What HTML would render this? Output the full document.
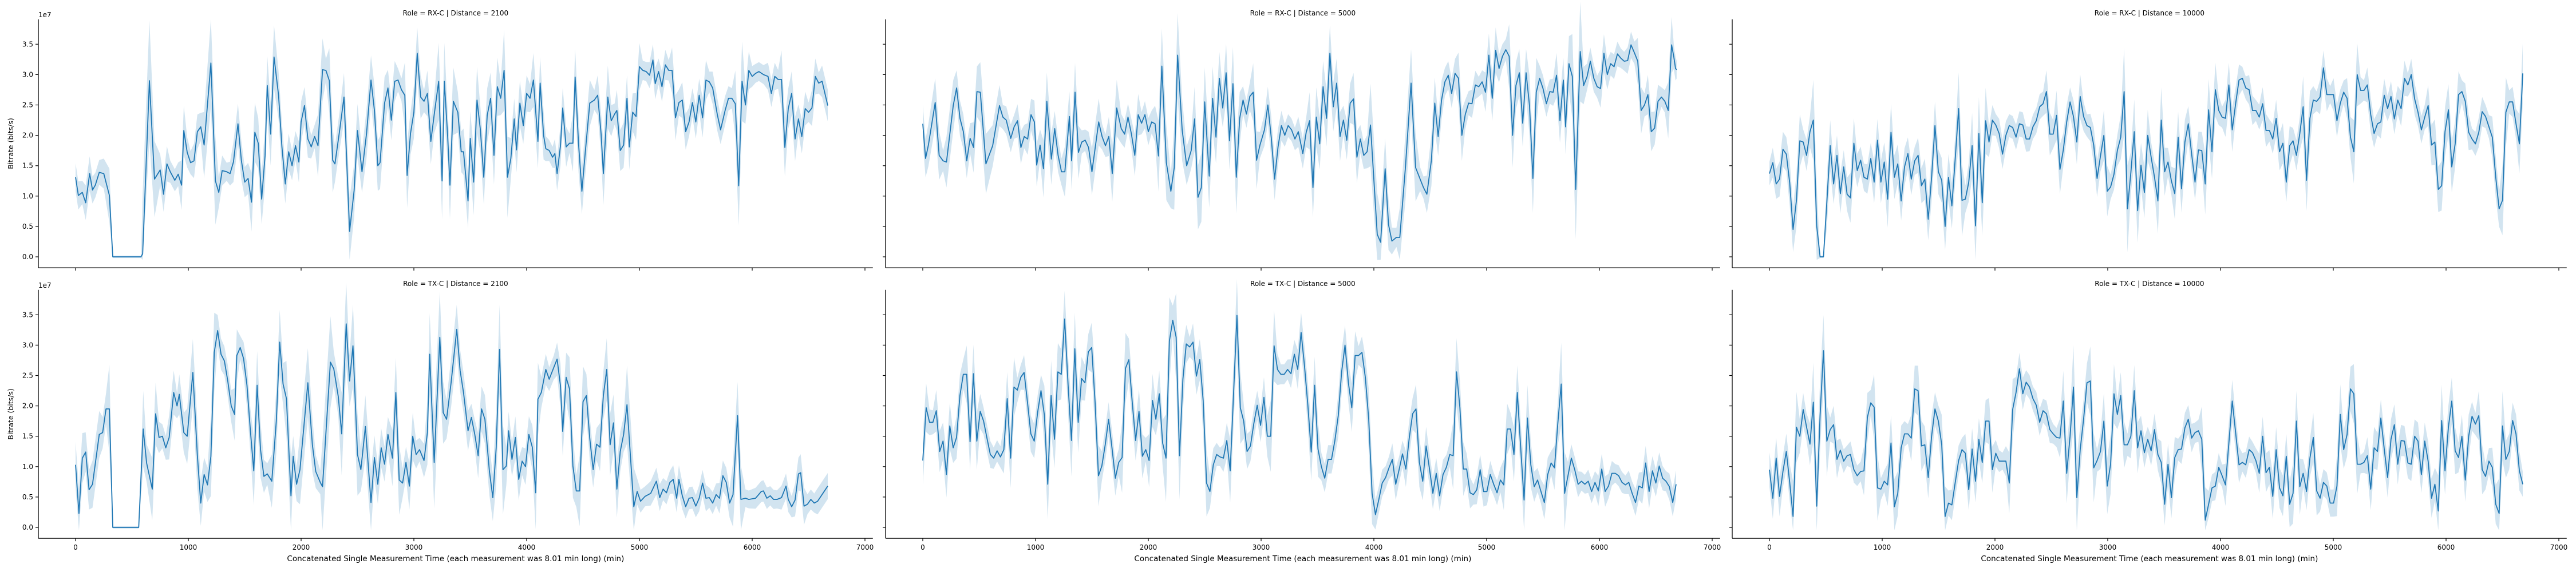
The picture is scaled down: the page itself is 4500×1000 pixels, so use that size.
<!DOCTYPE html>
<html><head><meta charset="utf-8"><title>Bitrate facets</title>
<style>
html,body{margin:0;padding:0;background:#fff;}
svg{display:block;font-family:"DejaVu Sans","Liberation Sans",sans-serif;}
</style></head>
<body>
<svg id="chart" width="4500" height="1000" viewBox="0 0 4500 1000" xmlns="http://www.w3.org/2000/svg"></svg>
<script>
// ---------- data ----------
const rx2100Times = [0,25,60,90,125,150,175,210,250,300,330,580,595,655,700,750,780,810,840,880,910,940,960,990,1020,1050,1080,1110,1140,1200,1240,1270,1300,1340,1370,1400,1440,1470,1500,1530,1560,1590,1620,1650,1680,1700,1730,1760,1800,1830,1860,1890,1920,1950,1980,2000,2030,2060,2090,2120,2150,2190,2220,2250,2280,2300,2340,2380,2400,2430,2470,2500,2540,2580,2620,2650,2680,2700,2740,2770,2800,2830,2860,2890,2920,2940,2970,3000,3030,3060,3090,3120,3150,3180,3220,3250,3270,3300,3320,3350,3390,3420,3440,3480,3500,3530,3560,3590,3620,3650,3680,3710,3740,3770,3800,3830,3860,3890,3910,3940,3970,4000,4030,4060,4100,4120,4150,4170,4200,4230,4250,4270,4300,4320,4350,4380,4410,4430,4460,4490,4520,4560,4600,4630,4660,4680,4720,4750,4780,4800,4830,4860,4890,4910,4940,4970,5000,5030,5060,5090,5120,5140,5170,5200,5230,5260,5290,5320,5350,5380,5410,5440,5470,5500,5530,5560,5590,5620,5650,5690,5720,5760,5790,5820,5850,5880,5910,5940,5970,6000,6030,6060,6100,6140,6170,6200,6230,6260,6290,6320,6350,6380,6410,6440,6470,6500,6530,6560,6590,6620,6670];
const rx2100Values = [1.31,1.01,1.06,0.89,1.37,1.1,1.18,1.39,1.37,1.01,0,0,0.05,2.9,1.28,1.43,1.03,1.53,1.4,1.26,1.36,1.18,2.08,1.72,1.55,1.58,2.06,2.14,1.84,3.19,1.25,1.06,1.42,1.4,1.37,1.56,2.19,1.59,1.23,1.29,0.9,2.05,1.87,0.95,1.66,2.82,2.02,3.29,2.66,1.81,1.2,1.73,1.5,1.83,1.56,2.22,2.49,1.94,1.81,1.98,1.83,3.08,3.07,2.9,1.59,1.53,2.06,2.63,1.78,0.42,1.09,2.08,1.4,2.03,2.91,2.41,1.5,1.55,2.53,2.78,2.25,2.89,2.91,2.75,2.66,1.34,2.03,2.38,3.35,2.63,2.56,2.69,1.9,2.34,2.89,1.25,2.89,1.97,1.18,2.56,2.38,1.73,1.73,0.92,1.95,1.23,2.58,2.09,1.31,2.33,2.61,1.67,2.8,2.61,3.07,1.31,1.62,2.27,1.76,2.53,2.16,2.69,2.61,2.91,1.9,2.86,2.0,1.78,1.75,1.64,1.7,1.37,1.83,2.45,1.81,1.87,1.87,2.96,1.87,1.08,1.72,2.53,2.58,2.66,2.03,1.37,2.63,2.24,2.35,2.41,1.75,1.84,2.61,1.81,2.38,2.31,3.13,3.07,3.05,2.99,3.24,2.85,3.05,2.8,3.16,3.07,3.07,2.29,2.54,2.58,2.06,2.22,2.54,2.22,2.66,2.29,2.91,2.88,2.78,2.35,2.09,2.41,2.61,2.61,2.52,1.17,2.89,2.5,3.07,2.97,3.02,3.05,3.0,2.97,2.69,2.97,2.92,2.92,1.8,2.44,2.69,1.94,2.27,1.98,2.44,2.38,2.45,2.97,2.86,2.89,2.49];

const rx5000Times = [0,25,50,110,145,180,210,270,300,330,360,390,420,450,480,510,560,620,680,710,740,780,810,840,870,900,930,960,990,1010,1040,1070,1100,1140,1170,1200,1230,1260,1300,1320,1350,1380,1410,1440,1470,1500,1560,1590,1620,1650,1680,1720,1760,1790,1820,1850,1880,1910,1940,1970,2000,2030,2060,2090,2120,2160,2200,2230,2260,2300,2340,2380,2410,2440,2470,2500,2540,2570,2600,2630,2660,2690,2720,2750,2780,2810,2840,2870,2900,2930,2960,2990,3030,3060,3090,3120,3150,3180,3210,3240,3270,3300,3330,3370,3400,3430,3460,3490,3520,3550,3580,3610,3640,3670,3700,3730,3760,3790,3820,3850,3880,3910,3940,3970,4030,4060,4100,4130,4160,4200,4230,4280,4330,4370,4410,4440,4470,4510,4540,4570,4600,4630,4660,4690,4720,4750,4780,4810,4840,4870,4900,4930,4960,4990,5020,5050,5080,5110,5140,5170,5200,5230,5260,5290,5320,5350,5380,5410,5440,5470,5500,5530,5560,5590,5620,5650,5680,5700,5730,5760,5790,5830,5860,5890,5920,5950,5980,6010,6040,6070,6100,6130,6160,6190,6220,6250,6280,6310,6340,6370,6400,6430,6460,6490,6520,6550,6580,6610,6640,6660,6675,6685];
const rx5000Values = [2.19,1.62,1.84,2.54,1.67,1.58,1.56,2.49,2.78,2.28,2.06,1.58,1.95,1.8,2.72,2.71,1.53,1.83,2.49,2.3,2.25,1.95,2.14,2.24,1.8,1.98,1.94,2.34,2.22,1.51,1.84,1.45,2.56,1.61,2.11,1.67,1.4,1.4,2.31,1.58,2.71,1.72,1.89,1.92,1.8,1.4,2.22,1.98,1.83,1.98,1.37,2.45,2.11,2.02,2.3,2.02,1.67,2.34,2.2,2.34,2.06,2.22,2.19,1.66,3.14,1.55,1.08,1.47,3.32,2.09,1.5,1.75,2.27,0.98,1.14,2.55,1.33,2.61,1.97,2.94,2.45,3.03,1.91,2.85,1.31,2.28,2.58,2.35,2.64,2.71,1.59,1.84,2.09,2.5,1.97,1.28,1.81,2.16,2.0,2.16,2.09,1.94,2.06,1.7,2.05,2.24,1.14,2.3,1.86,2.8,2.28,3.35,2.47,2.86,1.98,2.25,1.92,2.53,2.6,1.64,1.94,1.67,1.73,2.17,0.37,0.24,1.45,0.53,0.26,0.32,0.32,1.48,2.86,1.47,1.28,1.14,1.03,1.59,2.53,1.98,2.58,2.88,2.99,2.69,3.02,2.94,2.0,2.34,2.53,2.52,2.83,2.8,2.88,2.71,3.32,2.61,3.4,3.1,3.3,3.41,3.3,2.0,2.82,3.03,2.2,3.03,2.49,1.29,2.71,2.94,2.77,2.52,2.72,2.71,2.99,2.24,2.91,2.14,3.18,2.97,1.11,3.38,2.82,2.96,3.22,2.94,2.8,2.77,3.35,3.0,3.18,3.13,3.34,3.27,3.22,3.23,3.49,3.36,3.22,2.41,2.5,2.67,2.06,2.12,2.56,2.63,2.56,2.41,3.49,3.29,3.1,3.08];

const rx10000Values = [1.37,1.55,1.2,1.28,1.77,1.69,1.22,0.45,0.93,1.91,1.89,1.67,2.06,2.25,0.51,0,0,0.9,1.83,1.2,1.67,1.04,1.48,1.03,0.97,1.87,1.42,1.59,1.31,1.28,1.62,1.23,1.92,1.23,1.56,0.95,2.05,1.31,1.53,0.92,1.48,1.7,1.28,1.58,1.67,1.17,1.28,0.62,1.31,2.16,1.4,1.26,0.5,1.31,0.84,1.62,2.44,0.93,0.95,1.23,1.83,0.51,2.03,0.89,2.24,1.89,2.25,2.17,2.03,1.69,2.0,2.16,2.13,1.97,2.19,2.17,1.94,1.94,2.14,2.24,2.47,2.52,2.72,2.02,2.02,2.33,1.44,1.76,2.22,2.55,2.31,1.89,2.64,2.31,2.16,2.13,1.84,1.29,1.66,2.0,1.08,1.15,1.36,1.75,1.97,2.72,0.79,1.39,2.06,0.76,1.51,1.06,2.0,1.64,1.31,0.92,2.25,1.4,1.56,1.25,1.04,1.97,1.12,1.89,2.19,1.69,1.23,1.76,1.75,1.2,2.42,1.73,2.75,2.41,2.3,2.28,2.83,2.09,2.52,2.91,2.94,2.78,2.75,2.41,2.41,2.3,2.52,2.08,2.08,1.94,2.28,1.73,1.87,1.23,1.83,1.91,1.67,2.03,2.47,1.26,2.28,2.58,2.56,2.63,3.11,2.67,2.67,2.67,2.24,2.53,2.71,2.61,1.97,1.73,3.0,2.74,2.74,2.83,2.34,2.03,2.19,2.22,2.66,2.44,2.64,2.27,2.58,2.44,2.94,2.83,3.0,2.6,2.38,2.09,2.3,2.49,1.84,1.89,1.11,1.17,2.06,2.42,1.48,1.86,2.67,2.72,2.56,2.05,1.94,1.86,2.05,2.39,2.31,2.14,1.97,1.31,0.79,0.93,2.38,2.55,2.55,2.19,1.86,3.02];

const tx2100Times = [0,30,60,90,120,150,210,240,270,300,330,560,600,630,680,710,740,770,800,830,870,900,920,960,990,1040,1080,1110,1140,1170,1200,1230,1260,1290,1320,1350,1380,1410,1430,1460,1490,1520,1550,1580,1610,1640,1670,1700,1740,1780,1810,1840,1870,1910,1930,1960,1990,2060,2100,2130,2170,2190,2260,2290,2330,2360,2400,2430,2460,2500,2530,2570,2620,2650,2680,2710,2740,2770,2810,2840,2870,2900,2930,2960,2990,3020,3050,3090,3120,3140,3180,3230,3260,3290,3330,3380,3410,3440,3480,3510,3540,3570,3600,3630,3670,3700,3730,3760,3790,3820,3840,3870,3900,3930,3960,3990,4020,4050,4080,4100,4130,4170,4200,4240,4270,4300,4320,4350,4380,4410,4440,4470,4500,4530,4560,4590,4620,4650,4680,4710,4740,4770,4800,4830,4860,4890,4950,4980,5010,5050,5100,5150,5180,5210,5240,5270,5300,5330,5350,5380,5410,5440,5470,5500,5530,5560,5590,5620,5650,5680,5710,5740,5770,5800,5830,5870,5900,5940,5970,6030,6080,6100,6130,6160,6190,6220,6260,6300,6320,6350,6380,6410,6430,6460,6490,6520,6550,6580,6670];
const tx2100Values = [1.03,0.23,1.14,1.24,0.62,0.71,1.53,1.56,1.95,1.95,0,0,1.62,1.06,0.63,1.87,1.48,1.5,1.31,1.48,2.22,2.0,2.19,1.56,1.5,2.55,1.18,0.4,0.87,0.7,1.17,2.88,3.24,2.85,2.74,2.41,2.0,1.86,2.83,2.96,2.78,2.34,1.59,0.93,2.34,1.28,0.84,0.88,0.76,1.75,3.05,2.36,2.12,0.52,1.17,0.71,0.95,2.38,1.36,0.92,0.74,0.67,2.72,2.61,2.15,1.54,3.35,2.41,2.99,1.2,0.95,1.66,0.41,1.15,0.71,1.31,1.04,1.53,1.14,2.22,0.78,0.73,1.07,0.68,1.5,1.2,1.28,1.1,1.56,2.85,1.07,3.13,1.89,1.78,2.38,3.26,2.58,2.22,1.59,1.81,1.53,1.18,1.95,1.78,0.92,0.49,1.31,2.93,0.95,1.01,1.59,1.12,1.48,0.79,1.09,1.0,1.53,1.32,0.57,2.11,2.22,2.6,2.44,2.63,2.77,2.33,1.58,2.47,2.28,1.01,0.6,0.6,2.07,2.17,1.46,0.95,1.37,1.32,2.17,2.6,1.36,1.72,0.63,1.25,1.53,2.02,0.34,0.59,0.43,0.51,0.56,0.76,0.49,0.63,0.57,0.74,0.79,0.48,0.79,0.52,0.34,0.48,0.49,0.35,0.48,0.73,0.48,0.49,0.4,0.54,0.48,0.85,0.74,0.4,0.54,1.84,0.46,0.48,0.46,0.48,0.59,0.6,0.48,0.52,0.46,0.46,0.49,0.68,0.46,0.34,0.45,0.88,0.9,0.35,0.38,0.46,0.4,0.43,0.68];

const tx5000Values = [1.1,1.97,1.73,1.73,1.92,1.25,1.42,0.87,1.67,1.31,1.48,2.17,2.52,2.52,1.41,2.53,1.42,1.91,1.75,1.47,1.2,1.14,1.26,1.16,1.28,2.12,1.14,2.31,2.26,2.47,2.55,2.06,1.54,1.42,1.89,2.25,1.85,0.71,2.17,1.45,2.56,2.52,3.43,2.35,1.43,2.94,1.73,2.45,2.38,2.89,2.96,2.06,0.85,1.01,1.36,1.78,1.31,0.81,1.07,1.15,2.62,2.76,2.06,1.43,1.91,1.17,1.28,1.1,2.09,1.78,2.2,1.39,1.14,3.07,3.41,3.13,1.18,2.44,3.02,2.97,3.05,2.49,2.76,2.09,0.73,0.59,1.03,1.2,1.16,1.14,1.43,0.93,2.2,3.49,1.97,1.75,1.25,1.34,1.71,2.01,1.68,2.14,1.5,1.5,2.99,2.6,2.52,2.52,2.6,2.53,2.85,2.6,3.21,2.66,2.01,1.24,2.34,1.29,1.0,0.81,1.12,1.12,1.43,1.84,2.56,3.0,2.38,1.97,2.83,2.83,2.88,2.47,1.78,0.56,0.21,0.46,0.73,0.82,0.98,1.12,0.71,0.95,1.21,0.96,1.47,1.87,1.95,1.07,0.76,1.34,0.96,0.56,0.89,0.52,0.87,0.99,1.2,1.18,2.56,1.97,0.96,0.96,0.57,0.54,0.62,0.95,0.59,0.59,0.87,0.71,0.57,0.78,0.7,1.62,1.62,1.2,2.22,1.31,0.45,1.8,1.03,0.67,0.78,0.59,0.41,0.87,1.06,0.98,1.72,2.36,0.56,0.85,1.14,0.95,0.71,0.76,0.71,0.76,0.59,0.74,0.6,0.96,0.59,0.68,0.89,0.89,0.85,0.74,0.7,0.74,0.56,0.41,0.68,0.65,1.06,0.59,0.93,0.73,1.01,0.81,0.76,0.67,0.41,0.71];

const tx10000Values = [0.95,0.48,1.14,0.51,0.92,1.25,0.74,0.18,1.65,1.5,1.94,1.65,1.37,2.06,0.35,1.84,2.91,1.42,1.61,1.69,1.12,1.27,1.09,1.18,1.2,0.95,0.85,0.92,0.93,1.81,2.05,1.98,0.65,0.63,0.76,0.7,1.39,0.34,0.56,1.31,1.54,1.54,1.47,2.28,2.25,1.34,1.36,0.82,1.5,1.95,1.75,1.36,0.18,0.4,0.37,0.74,1.1,1.28,1.22,0.62,1.29,0.76,1.45,1.07,1.75,1.75,0.95,1.22,1.09,1.09,1.09,0.73,1.94,2.22,2.61,2.2,2.39,2.31,2.12,2.01,1.73,1.92,1.87,1.61,1.54,1.48,1.47,2.08,0.89,1.5,2.31,0.49,1.28,1.78,2.38,2.41,0.98,1.1,1.25,1.75,0.68,1.04,2.2,1.86,2.17,1.36,1.36,1.5,2.25,1.31,1.59,1.23,1.45,1.26,1.61,1.2,1.07,0.38,1.04,0.49,1.15,1.28,1.29,1.64,1.78,1.47,1.56,1.59,1.45,0.12,0.38,0.65,0.68,0.99,0.85,0.7,1.39,2.08,1.56,1.03,1.07,1.03,1.28,1.23,1.1,0.89,1.5,0.9,0.99,0.51,1.28,0.65,0.52,1.17,0.38,0.56,1.75,0.67,0.89,0.59,1.14,1.48,0.6,0.48,0.74,0.68,0.4,0.4,0.68,1.86,1.28,1.53,2.28,2.2,1.04,1.04,1.07,1.18,0.63,1.31,1.25,1.8,1.29,0.82,1.45,1.69,1.04,1.43,1.42,1.06,1.04,1.5,1.42,0.87,1.42,1.09,0.48,0.71,0.27,1.76,0.93,1.65,2.08,1.26,1.15,1.5,0.78,1.5,1.83,1.7,1.84,0.95,0.84,1.09,0.99,0.38,0.23,1.67,1.12,1.25,1.76,1.54,0.93,0.71];

const yTickLabels = ["0.0","0.5","1.0","1.5","2.0","2.5","3.0","3.5"];
const yTickValues = [0,0.5,1,1.5,2,2.5,3,3.5];
const xTickLabels = ["0","1000","2000","3000","4000","5000","6000","7000"];
const xTickValues = [0,1000,2000,3000,4000,5000,6000,7000];
const LAST_TIME = 6680;

// ---------- layout ----------
const NS = "http://www.w3.org/2000/svg";
const svg = document.getElementById("chart");
const colX0 = [132, 1612, 3091];
const rowY0 = [449, 922];
const PXU = 1379 / 7000;
const PXV = 106.2;
const X_MIN = -330, X_MAX = 7070, Y_MIN = -0.18, Y_MAX = 3.91;
const BLUE = "#1f77b4";

function mk(tag, attrs, parent) {
  const e = document.createElementNS(NS, tag);
  for (const k in attrs) e.setAttribute(k, attrs[k]);
  (parent || svg).appendChild(e);
  return e;
}
function uniformTimes(vals) {
  const step = LAST_TIME / (vals.length - 1);
  return vals.map((_, i) => i * step);
}

const panels = [
  {row:0,col:0,title:"Role = RX-C | Distance = 2100",t:rx2100Times,v:rx2100Values,name:"rx-2100"},
  {row:0,col:1,title:"Role = RX-C | Distance = 5000",t:rx5000Times,v:rx5000Values,name:"rx-5000"},
  {row:0,col:2,title:"Role = RX-C | Distance = 10000",t:uniformTimes(rx10000Values),v:rx10000Values,name:"rx-10000"},
  {row:1,col:0,title:"Role = TX-C | Distance = 2100",t:tx2100Times,v:tx2100Values,name:"tx-2100"},
  {row:1,col:1,title:"Role = TX-C | Distance = 5000",t:uniformTimes(tx5000Values),v:tx5000Values,name:"tx-5000"},
  {row:1,col:2,title:"Role = TX-C | Distance = 10000",t:uniformTimes(tx10000Values),v:tx10000Values,name:"tx-10000"}
];

panels.forEach(p => {
  const x0 = colX0[p.col], y0 = rowY0[p.row];
  const xs = t => x0 + t * PXU;
  const ys = v => y0 - v * PXV;
  const left = xs(X_MIN), right = xs(X_MAX), top = ys(Y_MAX), bottom = ys(Y_MIN);
  const g = mk("g", {});
  
  

  const n = p.v.length;
  const half = p.v.map((v, i) => {
    const a = i > 0 ? Math.abs(v - p.v[i-1]) : 0;
    const b = i < n-1 ? Math.abs(v - p.v[i+1]) : 0;
    return v === 0 ? 0.02 : 0.14 + 0.3 * Math.max(a, b);
  });
  let up = "", lo = "";
  for (let i = 0; i < n; i++) up += (i ? "L" : "M") + xs(p.t[i]).toFixed(1) + "," + ys(p.v[i] + half[i]).toFixed(1);
  for (let i = n-1; i >= 0; i--) lo += "L" + xs(p.t[i]).toFixed(1) + "," + ys(Math.max(p.v[i] - half[i], -0.05)).toFixed(1);
  const band = mk("path", {d: up + lo + "Z", fill: BLUE, "fill-opacity": "0.2", stroke: "none"}, g);
  
  

  let d = "";
  for (let i = 0; i < n; i++) d += (i ? "L" : "M") + xs(p.t[i]).toFixed(1) + "," + ys(p.v[i]).toFixed(1);
  const line = mk("path", {d, fill: "none", stroke: BLUE, "stroke-width": "1.8", "stroke-linejoin": "round"}, g);
  
  

  const sl = mk("line", {x1: left, y1: top, x2: left, y2: bottom, stroke: "#000", "stroke-width": "1.3"}, g);
  
  
  const sb = mk("line", {x1: left, y1: bottom, x2: right, y2: bottom, stroke: "#000", "stroke-width": "1.3"}, g);
  
  

  yTickValues.forEach((tv, i) => {
    const y = ys(tv);
    const tk = mk("line", {x1: left - 5, y1: y, x2: left, y2: y, stroke: "#000", "stroke-width": "1.2"}, g);
    
    
    if (p.col === 0) {
      const tl = mk("text", {x: left - 9, y: y + 4, "text-anchor": "end", "font-size": "12", fill: "#000"}, g);
      tl.textContent = yTickLabels[i];
      
      
    }
  });
  xTickValues.forEach((tv, i) => {
    const x = xs(tv);
    const tk = mk("line", {x1: x, y1: bottom, x2: x, y2: bottom + 5, stroke: "#000", "stroke-width": "1.2"}, g);
    
    
    if (p.row === 1) {
      const tl = mk("text", {x, y: bottom + 20, "text-anchor": "middle", "font-size": "12", fill: "#000"}, g);
      tl.textContent = xTickLabels[i];
      
      
    }
  });

  const tt = mk("text", {x: (left + right) / 2, y: top - 7, "text-anchor": "middle", "font-size": "12", fill: "#000"}, g);
  tt.textContent = p.title;
  
  

  if (p.col === 0) {
    const ex = mk("text", {x: left, y: top - 4, "font-size": "12", fill: "#000"}, g);
    ex.textContent = "1e7";
    
    
    const cy = (top + bottom) / 2;
    const yl = mk("text", {x: 0, y: 0, "text-anchor": "middle", "font-size": "12.5", fill: "#000", transform: "translate(23," + cy + ") rotate(-90)"}, g);
    yl.textContent = "Bitrate (bits/s)";
    
    
  }
  if (p.row === 1) {
    const xl = mk("text", {x: (left + right) / 2, y: bottom + 40, "text-anchor": "middle", "font-size": "13.5", fill: "#000"}, g);
    xl.textContent = "Concatenated Single Measurement Time (each measurement was 8.01 min long) (min)";
    
    
  }
});
</script>
</body></html>
